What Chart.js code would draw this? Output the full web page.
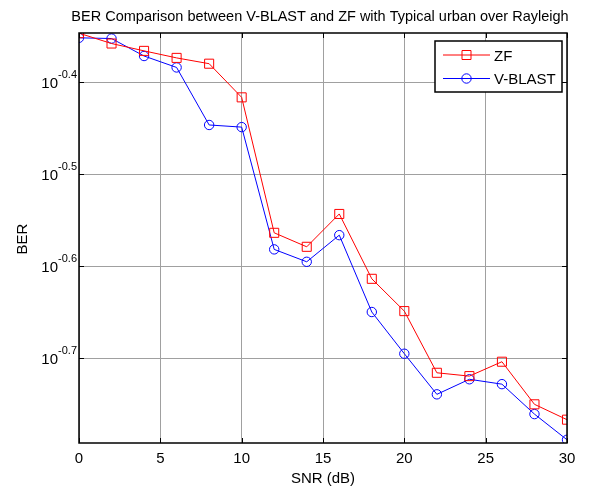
<!DOCTYPE html>
<html>
<head>
<meta charset="utf-8">
<script src="https://cdn.jsdelivr.net/npm/chart.js@4/dist/chart.umd.min.js"></script>
<style>
  body { margin: 0; background: #fff; }
  canvas { display: block; }
</style>
</head>
<body>
<canvas id="grafico" width="616" height="491"></canvas>
<script>
// dados
const snr = [0, 2, 4, 6, 8, 10, 12, 14, 16, 18, 20, 22, 24, 26, 28, 30];
const berZF = [0.4500, 0.4385, 0.4305, 0.4230, 0.4169, 0.3832, 0.2730, 0.2636,
               0.2862, 0.2433, 0.2244, 0.1923, 0.1907, 0.1977, 0.1777, 0.1710];
const berVBLAST = [0.4448, 0.4440, 0.4250, 0.4130, 0.3576, 0.3557, 0.2619, 0.2539,
                   0.2714, 0.2239, 0.2017, 0.1822, 0.1892, 0.1869, 0.1734, 0.1626];
const xTicks = [0, 5, 10, 15, 20, 25, 30];
const yTickExps = [-0.7, -0.6, -0.5, -0.4];
const yTickLabels = ['-0.7', '-0.6', '-0.5', '-0.4'];
const seriesNames = ['ZF', 'V-BLAST'];

const FONT = "'Liberation Sans', Arial, sans-serif";

const eixosMatlab = {
    id: 'eixosMatlab',
    afterDraw(chart) {
        const ctx = chart.ctx;
        const area = chart.chartArea;
        const sx = chart.scales.x;
        const sy = chart.scales.y;
        ctx.save();

        // caixa
        ctx.strokeStyle = '#000';
        ctx.lineWidth = 1.5;
        ctx.strokeRect(area.left, area.top, area.right - area.left, area.bottom - area.top);

        // marcas internas
        ctx.lineWidth = 1;
        const tl = 5;
        xTicks.forEach(v => {
            const px = Math.round(sx.getPixelForValue(v)) + 0.5;
            ctx.beginPath();
            ctx.moveTo(px, area.bottom); ctx.lineTo(px, area.bottom - tl);
            ctx.moveTo(px, area.top); ctx.lineTo(px, area.top + tl);
            ctx.stroke();
        });
        yTickExps.forEach(e => {
            const py = Math.round(sy.getPixelForValue(Math.pow(10, e))) + 0.5;
            ctx.beginPath();
            ctx.moveTo(area.left, py); ctx.lineTo(area.left + tl, py);
            ctx.moveTo(area.right, py); ctx.lineTo(area.right - tl, py);
            ctx.stroke();
        });

        // rotulos x
        ctx.fillStyle = '#000';
        ctx.font = '15px ' + FONT;
        ctx.textAlign = 'center';
        ctx.textBaseline = 'alphabetic';
        xTicks.forEach(v => {
            ctx.fillText(String(v), sx.getPixelForValue(v), area.bottom + 19.5);
        });

        // rotulos y com expoente
        yTickExps.forEach((e, i) => {
            const py = sy.getPixelForValue(Math.pow(10, e));
            ctx.font = '11px ' + FONT;
            const wSup = ctx.measureText(yTickLabels[i]).width;
            ctx.textAlign = 'right';
            ctx.fillText(yTickLabels[i], area.left - 2, py - 4);
            ctx.font = '15px ' + FONT;
            ctx.fillText('10', area.left - 2 - wSup, py + 6);
        });

        // titulos
        ctx.font = '15px ' + FONT;
        ctx.textAlign = 'center';
        ctx.fillText('SNR (dB)', (area.left + area.right) / 2, 483);
        ctx.save();
        ctx.translate(27, (area.top + area.bottom) / 2 + 1);
        ctx.rotate(-Math.PI / 2);
        ctx.fillText('BER', 0, 0);
        ctx.restore();
        ctx.font = '14.5px ' + FONT;
        ctx.fillText('BER Comparison between V-BLAST and ZF with Typical urban over Rayleigh',
            (area.left + area.right) / 2 - 3, 21);

        // legenda
        const lx = 435, ly = 41, lw = 127, lh = 51;
        ctx.fillStyle = '#fff';
        ctx.fillRect(lx, ly, lw, lh);
        ctx.strokeStyle = '#000';
        ctx.lineWidth = 1.5;
        ctx.strokeRect(lx, ly, lw, lh);
        chart.data.datasets.forEach((ds, i) => {
            const yy = 55 + i * 23.5;
            ctx.strokeStyle = ds.borderColor;
            ctx.lineWidth = 1;
            ctx.beginPath();
            ctx.moveTo(443, yy); ctx.lineTo(490, yy);
            ctx.stroke();
            ctx.beginPath();
            if (ds.pointStyle === 'rect') {
                ctx.rect(462, yy - 4.5, 9, 9);
            } else {
                ctx.arc(466.5, yy, 4.7, 0, Math.PI * 2);
            }
            ctx.stroke();
            ctx.fillStyle = '#000';
            ctx.font = '15px ' + FONT;
            ctx.textAlign = 'left';
            ctx.fillText(seriesNames[i], 494, yy + 5.5);
        });
        ctx.restore();
    }
};

new Chart(document.getElementById('grafico').getContext('2d'), {
    type: 'line',
    data: {
        labels: snr,
        datasets: [
            {
                label: seriesNames[0],
                data: snr.map((x, i) => ({ x: x, y: berZF[i] })),
                borderColor: '#ff0000',
                backgroundColor: 'transparent',
                borderWidth: 1,
                pointStyle: 'rect',
                pointRadius: 6.4,
                pointBorderWidth: 1,
                pointBackgroundColor: 'transparent',
                pointBorderColor: '#ff0000',
                tension: 0
            },
            {
                label: seriesNames[1],
                data: snr.map((x, i) => ({ x: x, y: berVBLAST[i] })),
                borderColor: '#0000ff',
                backgroundColor: 'transparent',
                borderWidth: 1,
                pointStyle: 'circle',
                pointRadius: 4.7,
                pointBorderWidth: 1,
                pointBackgroundColor: 'transparent',
                pointBorderColor: '#0000ff',
                tension: 0
            }
        ]
    },
    options: {
        responsive: false,
        animation: false,
        events: [],
        layout: { padding: { left: 79, right: 49, top: 33, bottom: 48 } },
        plugins: {
            legend: { display: false },
            title: { display: false },
            tooltip: { enabled: false }
        },
        scales: {
            x: {
                type: 'linear',
                min: 0,
                max: 30,
                afterBuildTicks: scale => { scale.ticks = xTicks.map(v => ({ value: v })); },
                ticks: { display: false },
                border: { display: false },
                grid: { color: '#a0a0a0', lineWidth: 1, drawTicks: false }
            },
            y: {
                type: 'logarithmic',
                min: 0.1613,
                max: 0.4502,
                afterBuildTicks: scale => { scale.ticks = yTickExps.map(e => ({ value: Math.pow(10, e) })); },
                ticks: { display: false },
                border: { display: false },
                grid: { color: '#a0a0a0', lineWidth: 1, drawTicks: false }
            }
        }
    },
    plugins: [eixosMatlab]
});
</script>
</body>
</html>
